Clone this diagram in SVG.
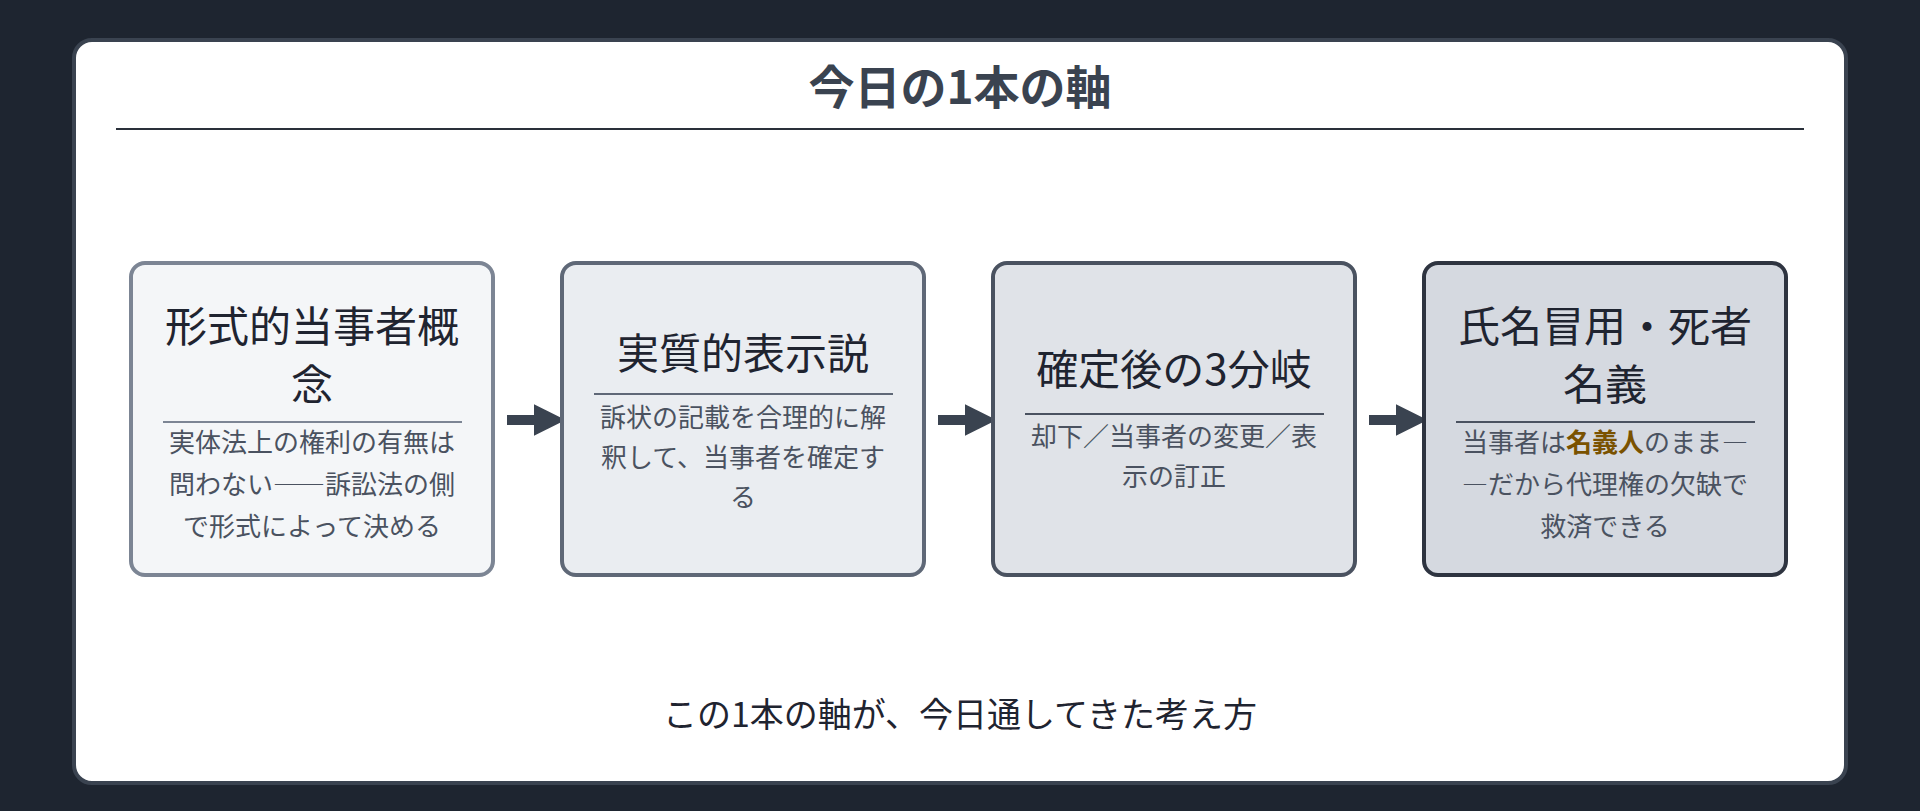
<svg xmlns="http://www.w3.org/2000/svg" width="1920" height="811" viewBox="0 0 1920 811">
<style>
text{font-family:"Noto Sans CJK JP","Noto Sans",sans-serif;text-anchor:middle}
.t{font-size:42px;fill:#1f2430}
.d{font-size:26px;fill:#4a5260}
.dv{stroke-width:2}
</style>
<defs>
<marker id="ah" viewBox="0 0 10 10" refX="2" refY="5" markerWidth="3.2" markerHeight="3.2" orient="auto"><path d="M0,0L10,5L0,10z" fill="#3a4350"/></marker>
</defs>
<rect width="1920" height="811" fill="#1e2530"/>
<rect x="74" y="40" width="1772" height="743" rx="18" fill="#fff" stroke="#3a4350" stroke-width="4"/>
<text x="960" y="104" style="font-size:46px;font-weight:bold;fill:#3a4350">今日の1本の軸</text>
<line x1="116" y1="129" x2="1804" y2="129" stroke="#2a303a" stroke-width="2"/>
<g id="connectors" stroke="#3a4350" stroke-width="10" marker-end="url(#ah)">
<line x1="507" y1="420" x2="540" y2="420"/>
<line x1="938" y1="420" x2="971" y2="420"/>
<line x1="1369" y1="420" x2="1402" y2="420"/>
</g>
<g id="n1">
<rect x="131" y="263" width="362" height="312" rx="14" fill="#f4f6f8" stroke="#7c8594" stroke-width="4"/>
<text class="t" x="312" y="342">形式的当事者概</text>
<text class="t" x="312" y="400">念</text>
<line class="dv" x1="163" y1="422" x2="462" y2="422" stroke="#7c8594"/>
<text class="d" x="312" y="452">実体法上の権利の有無は</text>
<text class="d" x="312" y="494">問わない――訴訟法の側</text>
<text class="d" x="312" y="536">で形式によって決める</text>
</g>
<g id="n2">
<rect x="562" y="263" width="362" height="312" rx="14" fill="#eaedf1" stroke="#5f6877" stroke-width="4"/>
<text class="t" x="743" y="369">実質的表示説</text>
<line class="dv" x1="594" y1="394" x2="893" y2="394" stroke="#5f6877"/>
<text class="d" x="743" y="427">訴状の記載を合理的に解</text>
<text class="d" x="743" y="467">釈して、当事者を確定す</text>
<text class="d" x="743" y="507">る</text>
</g>
<g id="n3">
<rect x="993" y="263" width="362" height="312" rx="14" fill="#e0e3e8" stroke="#4a5260" stroke-width="4"/>
<text class="t" x="1174" y="385">確定後の3分岐</text>
<line class="dv" x1="1025" y1="414" x2="1324" y2="414" stroke="#4a5260"/>
<text class="d" x="1174" y="446">却下／当事者の変更／表</text>
<text class="d" x="1174" y="486">示の訂正</text>
</g>
<g id="n4">
<rect x="1424" y="263" width="362" height="312" rx="14" fill="#d5d9e0" stroke="#2e3440" stroke-width="4"/>
<text class="t" x="1605" y="342">氏名冒用・死者</text>
<text class="t" x="1605" y="400">名義</text>
<line class="dv" x1="1456" y1="422" x2="1755" y2="422" stroke="#4a5260"/>
<text class="d" x="1605" y="452">当事者は<tspan style="font-weight:bold;fill:#7a5200">名義人</tspan>のまま―</text>
<text class="d" x="1605" y="494">―だから代理権の欠缺で</text>
<text class="d" x="1605" y="536">救済できる</text>
</g>
<text x="960" y="727" style="font-size:34px;fill:#1f2430">この1本の軸が、今日通してきた考え方</text>
</svg>
